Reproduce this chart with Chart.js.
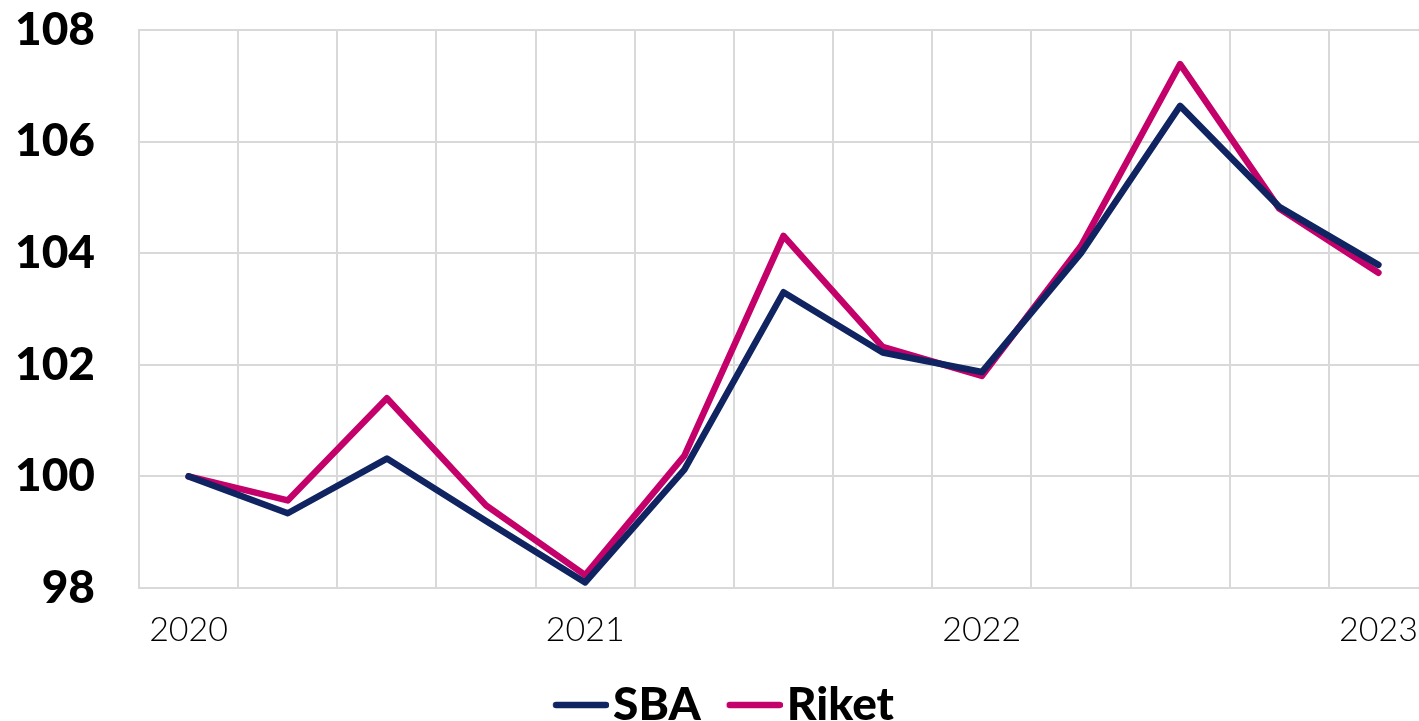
<!DOCTYPE html>
<html>
<head>
<meta charset="utf-8">
<script src="https://cdn.jsdelivr.net/npm/chart.js@4"></script>
<style>
  html, body { margin: 0; padding: 0; background: #fff; overflow: hidden; }
  #wrap { width: 1419px; height: 721px; overflow: hidden; }
</style>
</head>
<body>
<div id="wrap"><canvas id="c" width="1432" height="721"></canvas></div>
<script>
const quarters = ['2020K1', '2020K2', '2020K3', '2020K4', '2021K1', '2021K2', '2021K3', '2021K4',
  '2022K1', '2022K2', '2022K3', '2022K4', '2023K1'];
const sba = [100, 99.34, 100.32, 99.2, 98.1, 100.12, 103.3, 102.22, 101.87, 104.0, 106.64, 104.83, 103.79];
const riket = [100, 99.57, 101.4, 99.48, 98.23, 100.37, 104.31, 102.32, 101.8, 104.13, 107.39, 104.8, 103.65];
const yTicks = [98, 100, 102, 104, 106, 108];

const gridColor = '#d9d9d9';

// legend line drawn as an image, pushed to the right so it sits close to the text
function legendLine(color) {
  const c = document.createElement('canvas');
  c.width = 94; c.height = 10;
  const ctx = c.getContext('2d');
  ctx.strokeStyle = color;
  ctx.lineWidth = 6.5;
  ctx.lineCap = 'round';
  ctx.beginPath();
  ctx.moveTo(41, 5);
  ctx.lineTo(91, 5);
  ctx.stroke();
  return c;
}

new Chart(document.getElementById('c'), {
  type: 'line',
  data: {
    labels: quarters,
    datasets: [
      { label: 'SBA', data: sba, borderColor: '#0f2461', backgroundColor: '#0f2461' },
      { label: 'Riket', data: riket, borderColor: '#c4006a', backgroundColor: '#c4006a' }
    ].map(d => Object.assign(d, {
      borderWidth: 6.5, pointRadius: 0, tension: 0,
      borderCapStyle: 'round', borderJoinStyle: 'round'
    }))
  },
  options: {
    responsive: false,
    animation: false,
    layout: { padding: { top: 30, right: 4, bottom: -17 } },
    scales: {
      x: {
        offset: true,
        grid: { color: gridColor, lineWidth: 2, offset: true, tickLength: 22, tickColor: 'transparent' },
        border: { color: gridColor, width: 2 },
        ticks: {
          autoSkip: false, maxRotation: 0, padding: 0, color: '#000',
          font: { family: 'Lato', weight: '300', size: 34 },
          callback: (v, i) => i % 4 === 0 ? quarters[i].slice(0, 4) : ''
        },
        afterFit: s => { s.height = 87; }
      },
      y: {
        min: 98, max: 108,
        afterBuildTicks: s => { s.ticks = yTicks.map(v => ({ value: v })); },
        grid: { color: gridColor, lineWidth: 2, tickLength: 44, tickColor: 'transparent' },
        border: { color: gridColor, width: 2 },
        ticks: {
          padding: 0, color: '#000',
          font: { family: 'Lato', weight: '900', size: 46 }
        },
        afterFit: s => { s.width = 139; }
      }
    },
    plugins: {
      tooltip: { enabled: false },
      legend: {
        position: 'bottom',
        labels: {
          usePointStyle: true, pointStyleWidth: 56,
          color: '#000', padding: 7,
          font: { family: 'Lato', weight: '900', size: 46 },
          generateLabels: chart => Chart.defaults.plugins.legend.labels.generateLabels(chart)
            .map(l => Object.assign(l, { pointStyle: legendLine(l.strokeStyle) }))
        }
      }
    }
  }
});
</script>
</body>
</html>
